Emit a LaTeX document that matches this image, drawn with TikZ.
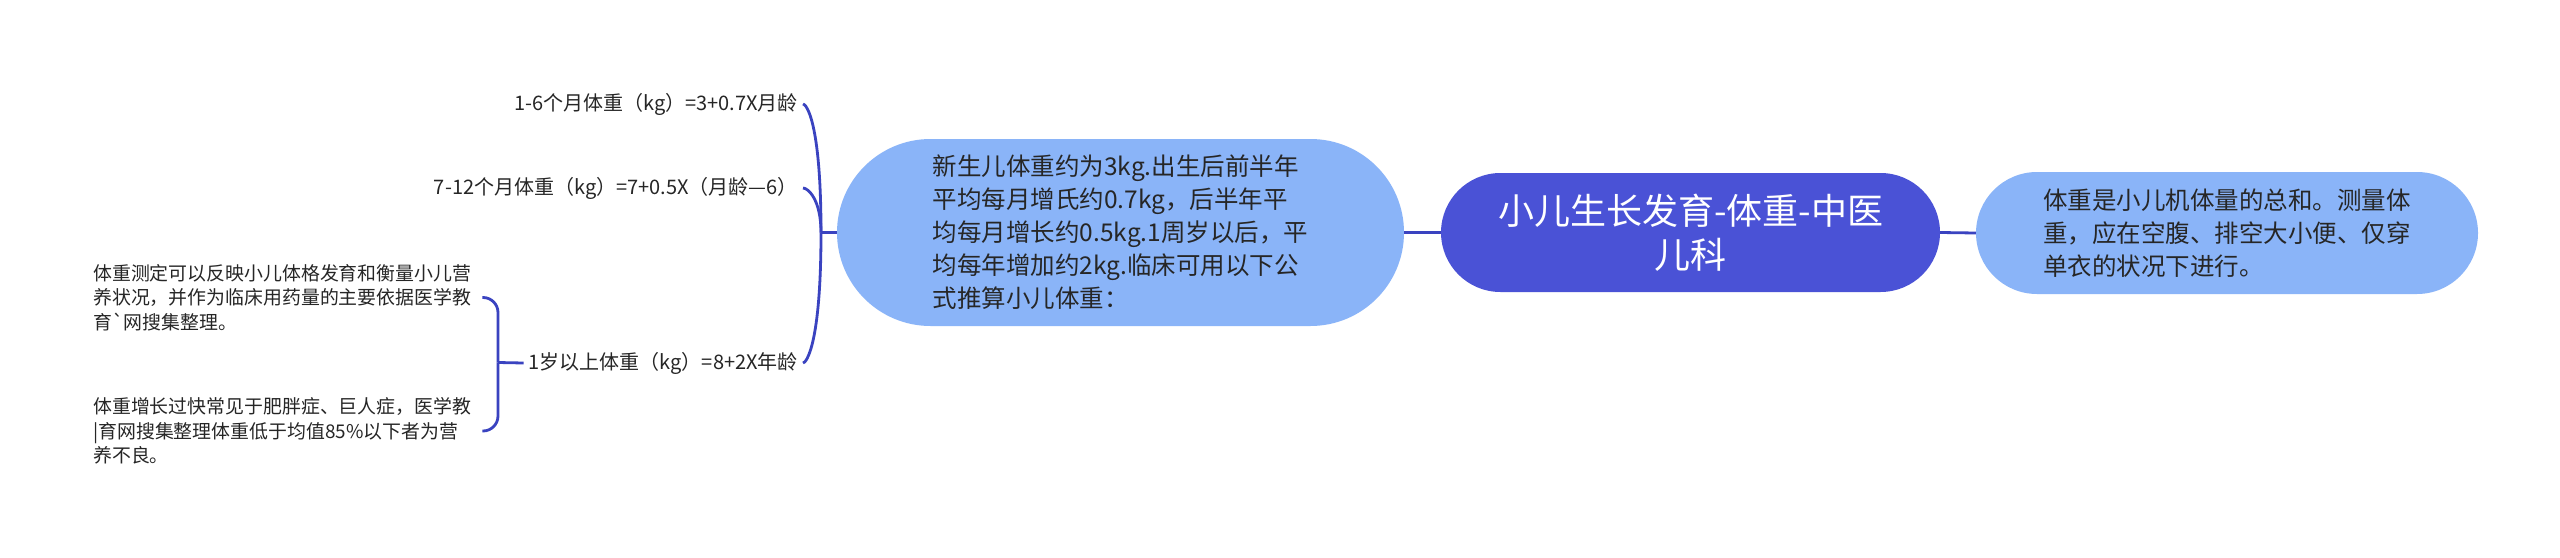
\documentclass[tikz,border=0pt]{standalone}
\usepackage{fontspec}
\setmainfont{Noto Sans CJK SC}[Ligatures=TeXOff]
\usetikzlibrary{calc}
\definecolor{rootblue}{HTML}{4A52D6}
\definecolor{subblue}{HTML}{8AB4F8}
\definecolor{linkblue}{HTML}{3A43C0}
\definecolor{txt}{HTML}{262626}
\begin{document}
\begin{tikzpicture}[x=1pt,y=-1pt,
  rootbox/.style={fill=rootblue, text=white, align=center, inner sep=0pt,
    font=\fontsize{36}{44}\selectfont},
  subbox/.style={fill=subblue, text=txt, align=left, inner sep=0pt,
    font=\fontsize{24.5}{33}\selectfont},
  leaf/.style={text=txt, inner xsep=5pt, inner ysep=0pt,
    font=\fontsize{20}{24.5}\selectfont},
  leafblock/.style={text=txt, align=left, inner xsep=11pt, inner ysep=0pt,
    font=\fontsize{18.9}{24.5}\selectfont},
  conn/.style={draw=linkblue, line width=2.8pt}]
\useasboundingbox (0,0) rectangle (2560,557);
\fill[white] (0,0) rectangle (2560,557);

\node[rootbox, minimum width=499pt, minimum height=119pt, rounded corners=59.5pt]
  (root) at (1690.5,232.5) {小儿生长发育-体重-中医\\儿科};
\node[subbox, minimum width=567pt, minimum height=187pt, rounded corners=93.5pt]
  (mid) at (1120.5,232.5) {新生儿体重约为3kg.出生后前半年\\平均每月增氏约0.7kg，后半年平\\均每月增长约0.5kg.1周岁以后，平\\均每年增加约2kg.临床可用以下公\\式推算小儿体重：};
\node[subbox, minimum width=502pt, minimum height=122pt, rounded corners=61pt]
  (right) at (2227,233) {体重是小儿机体量的总和。测量体\\重，应在空腹、排空大小便、仅穿\\单衣的状况下进行。};

\node[leaf, anchor=east] (c1) at (803,104) {1-6个月体重（kg）=3+0.7X月龄};
\node[leaf, anchor=east] (c2) at (803,188) {7-12个月体重（kg）=7+0.5X（月龄—6）};
\node[leaf, anchor=east] (c3) at (803,363) {1岁以上体重（kg）=8+2X年龄};

\node[leafblock, anchor=west] (b1) at (82,297.5) {体重测定可以反映小儿体格发育和衡量小儿营\\养状况，并作为临床用药量的主要依据医学教\\育`网搜集整理。};
\node[leafblock, anchor=west] (b2) at (82,431) {体重增长过快常见于肥胖症、巨人症，医学教\\|育网搜集整理体重低于均值85\%以下者为营\\养不良。};

\draw[conn] (mid.east) -- (root.west);
\draw[conn] (root.east) -- (right.west);

\coordinate (s1) at (821,232.5);
\draw[conn] (mid.west) -- (s1);
\draw[conn] (s1) .. controls +(0,-112) and +(3,0) .. (c1.east);
\draw[conn] (s1) .. controls +(0,-33) and +(5,0) .. (c2.east);
\draw[conn] (s1) .. controls +(0,113) and +(3,0) .. (c3.east);

\coordinate (s2) at (498,362.5);
\draw[conn] (c3.west) -- (s2);
\draw[conn, rounded corners=15pt] (s2) |- (b1.east);
\draw[conn, rounded corners=15pt] (s2) |- (b2.east);
\end{tikzpicture}
\end{document}
